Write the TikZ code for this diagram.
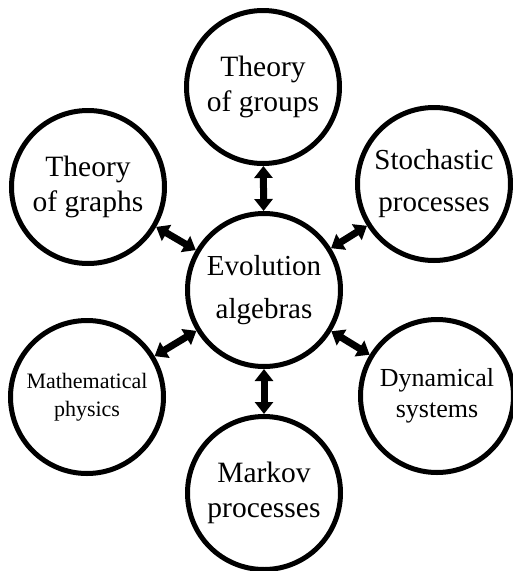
\documentclass[tikz,border=0pt]{standalone}
\usepackage{fontspec}
\setmainfont{Liberation Serif}
\usetikzlibrary{arrows.meta}
\begin{document}
\begin{tikzpicture}[x=1pt,y=-1pt,
  topic/.style={circle,draw=black,line width=5pt,minimum size=153pt,inner sep=0pt,align=center},
  big/.style={font=\fontsize{29.5}{35}\selectfont},
  link/.style={{Triangle[length=12pt,width=18pt]}-{Triangle[length=12pt,width=18pt]},line width=7pt}]
\useasboundingbox (0,0) rectangle (513,571);
\node[topic,font=\fontsize{29}{43}\selectfont] (ev) at (264,290) {Evolution\\algebras};
\node[topic,big] (grp) at (263,87) {Theory\\of groups};
\node[topic,big] (gra) at (88,187) {Theory\\of graphs};
\node[topic,font=\fontsize{29}{42}\selectfont] (sto) at (434,184) {Stochastic\\processes};
\node[topic,font=\fontsize{22}{28}\selectfont] (mat) at (87,397) {Mathematical\\physics};
\node[topic,font=\fontsize{26}{31}\selectfont] (dyn) at (437,396) {Dynamical\\systems};
\node[topic,big] (mar) at (264,493) {Markov\\processes};
\draw[link] (grp) -- (ev);
\draw[link] (gra) -- (ev);
\draw[link] (sto) -- (ev);
\draw[link] (mat) -- (ev);
\draw[link] (dyn) -- (ev);
\draw[link] (mar) -- (ev);
\end{tikzpicture}
\end{document}
